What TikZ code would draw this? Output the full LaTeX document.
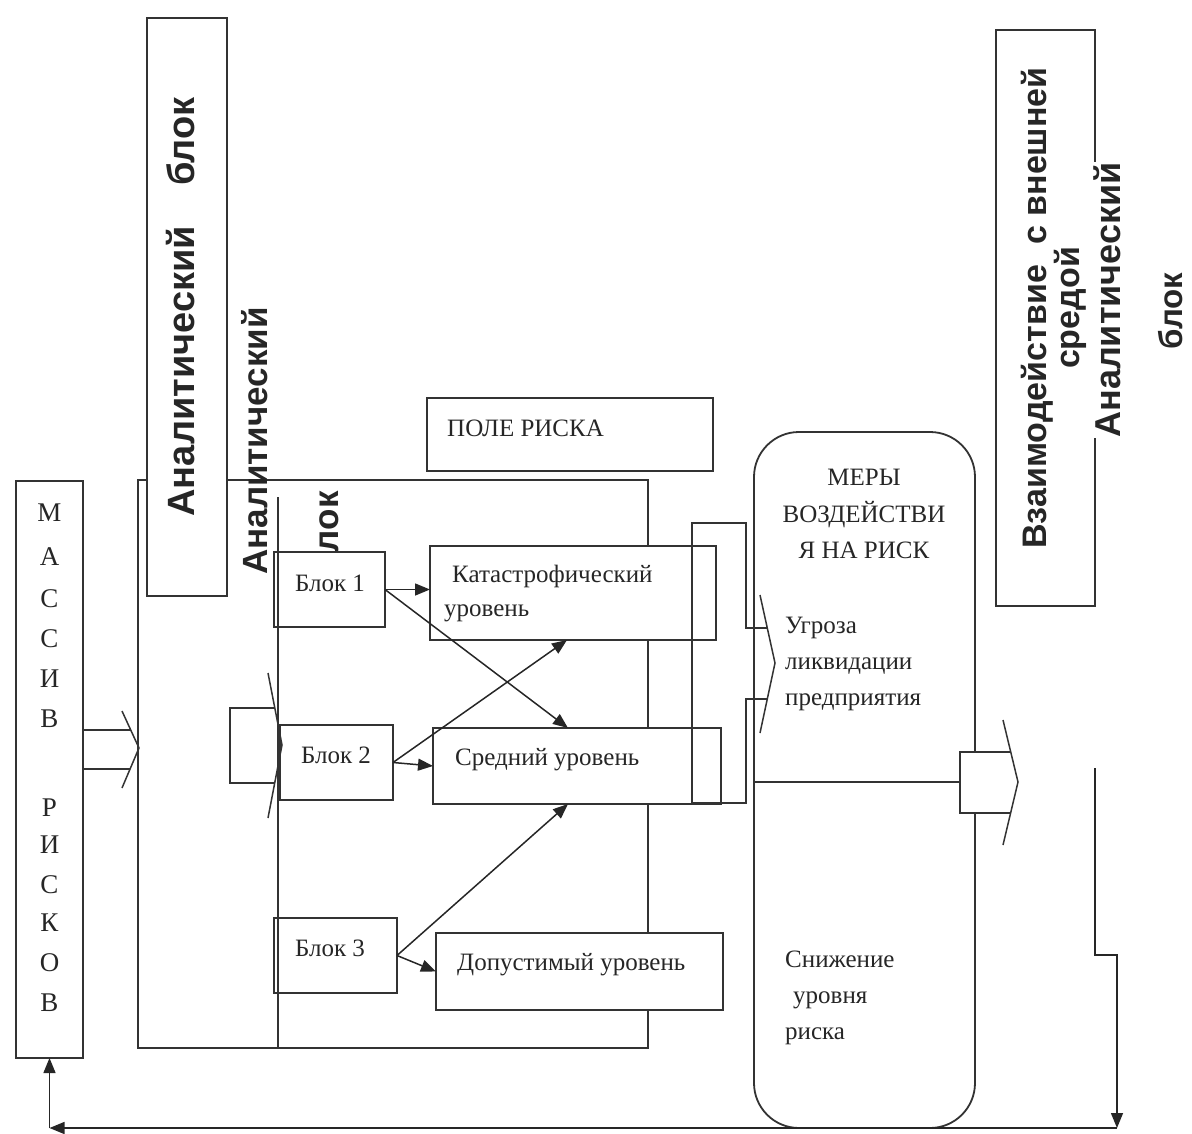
\documentclass[tikz,border=0pt]{standalone}
\usepackage{fontspec}
\setmainfont{Liberation Serif}
\newfontfamily\sansf{Liberation Sans}
\usetikzlibrary{arrows.meta}
\begin{document}
\begin{tikzpicture}[x=1pt,y=-1pt,
  bx/.style={draw=black!80, line width=1.8pt, fill=white, inner sep=0pt, outer sep=0pt},
  ln/.style={draw=black!80, line width=1.5pt},
  con/.style={draw=black!85, line width=1.5pt, -{Triangle[length=15pt,width=12pt]}},
  txt/.style={font=\fontsize{25}{36}\selectfont, text=black!85, inner sep=0pt},
  rtxt/.style={rotate=90, text=black!85, inner sep=0pt}]
\useasboundingbox (0,0) rectangle (1192,1134);
% field of analysis
\node[bx, fill=none, line width=1.5pt, minimum width=510, minimum height=568] (field) at (393,764) {};
% top-left analytic box
\node[bx, minimum width=80, minimum height=578] (tl) at (187,307) {};
\node[rtxt, font=\sansf\bfseries\fontsize{38}{40}\selectfont] (t1) at (181,307) {Аналитический\hspace{40pt}блок};
% pole riska
\node[bx, minimum width=286, minimum height=73] (pole) at (570,434.5) {};
\node[txt, anchor=west] (polet) at (447,428) {ПОЛЕ РИСКА};
% second analytic text
\node[rtxt, anchor=west, font=\sansf\bfseries\fontsize{35}{38}\selectfont] (t2a) at (255,575) {Аналитический};
\node[rtxt, anchor=west, font=\sansf\bfseries\fontsize{35}{38}\selectfont] (t2b) at (326,573) {блок};
% blocks
\node[bx, minimum width=111, minimum height=75] (b1) at (329.5,589.5) {};
\node[bx, minimum width=113, minimum height=75] (b2) at (336.5,762.5) {};
\node[bx, minimum width=123, minimum height=75] (b3) at (335.5,955.5) {};
\node[txt] (b1t) at (330,583) {Блок 1};
\node[txt] (b2t) at (336,755) {Блок 2};
\node[txt] (b3t) at (330,948) {Блок 3};
\draw[ln] (278,497) -- (278,1048);
% levels
\node[bx, minimum width=286, minimum height=94] (kat) at (573,593) {};
\node[bx, minimum width=288, minimum height=76] (sred) at (577,766) {};
\node[bx, minimum width=287, minimum height=77] (dop) at (579.5,971.5) {};
\node[txt, align=left, anchor=west, font=\fontsize{25}{34}\selectfont] (katt) at (444,594) {\hspace*{8pt}Катастрофический\\уровень};
\node[txt, anchor=west] (sredt) at (455,760) {Средний уровень};
\node[txt, anchor=west] (dopt) at (457,965) {Допустимый уровень};
% connectors
\draw[con] (b1.east) -- (b1.east -| kat.west);
\draw[con] (b1.east) -- ([xshift=135]sred.north west);
\draw[con] (b2.east) -- ([xshift=137]kat.south west);
\draw[con] (b2.east) -- (sred.west);
\draw[con] (b3.east) -- (dop.west);
\draw[con] (b3.east) -- ([xshift=135]sred.south west);
% hollow arrow into block 2
\draw[ln] (274.8,708) -- (230,708) -- (230,783) -- (274.7,783);
\draw[ln] (268,673) -- (282,745) -- (268,818);
% measures box
\node[bx, rounded corners=45pt, minimum width=221, minimum height=696] (mery) at (864.5,780) {};
\node[txt, align=center, font=\fontsize{25}{36.5}\selectfont] (meryt) at (864,514) {МЕРЫ\\ВОЗДЕЙСТВИ\\Я НА РИСК};
\node[txt, align=left, anchor=west] (ugr) at (785,664) {Угроза\\ликвидации\\предприятия};
\node[txt, align=left, anchor=west] (sniz) at (785,998) {Снижение\\\hspace*{8pt}уровня\\риска};
\draw[ln] (mery.west |- 0,782) -- (960,782);
% bracket arrow into measures
\draw[ln] (767.3,628) -- (746,628) -- (746,523) -- (692,523) -- (692,803) -- (746,803) -- (746,699) -- (767.3,699);
\draw[ln] (760,595) -- (775,663) -- (760,733);
% arrow out of measures
\fill[white] (960,752) rectangle (1010,813);
\draw[ln] (1010.7,752) -- (960,752) -- (960,813) -- (1010.6,813);
\draw[ln] (1003,720) -- (1018,782) -- (1003,845);
% right box
\node[bx, minimum width=99, minimum height=576] (rbox) at (1045.5,318) {};
\node[rtxt, align=center, font=\sansf\bfseries\fontsize{34}{33}\selectfont] (t3) at (1054,308) {Взаимодействие\hspace{0.6em}с внешней\\средой};
\node[rtxt, fill=white, font=\sansf\bfseries\fontsize{36}{38}\selectfont] (t4a) at (1107,300) {Аналитический};
\node[rtxt, font=\sansf\bfseries\fontsize{33}{36}\selectfont] (t4b) at (1171,311) {блок};
% massiv riskov
\node[bx, minimum width=67, minimum height=577] (massiv) at (49.5,769.5) {};
\foreach \l/\yy [count=\i] in {М/513,А/557,С/599,С/639,И/679,В/719,Р/808,И/845,С/885,К/923,О/963,В/1003}
  \node[txt, font=\fontsize{27}{30}\selectfont] (m\i) at (49.5,\yy) {\l};
\draw[ln] (83,730) -- (130.7,730);
\draw[ln] (83,769) -- (130.1,769);
\draw[ln] (122,711) -- (139,748) -- (122,788);
% feedback line
\coordinate (r1) at (1095,768);
\coordinate (r2) at (1095,955);
\coordinate (r3) at (1117,955);
\coordinate (r4) at (1117,1128);
\coordinate (r5) at (49.5,1128);
\draw[con] (r1) -- (r2) -- (r3) -- (r4);
\draw[con] (r4) -- (r5);
\draw[con] (r5) -- (massiv.south);
\end{tikzpicture}
\end{document}
